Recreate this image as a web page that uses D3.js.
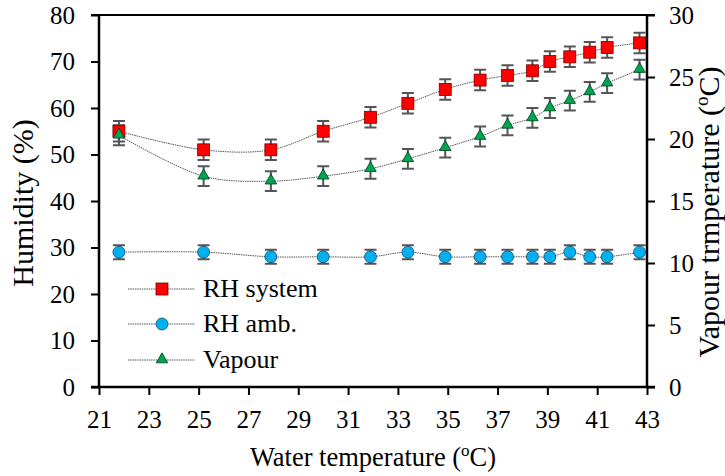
<!DOCTYPE html>
<html><head><meta charset="utf-8">
<script src="https://cdn.jsdelivr.net/npm/d3@7"></script>
<style>body{margin:0;background:#fff}svg{display:block}text{font-family:"Liberation Serif","Times New Roman",serif;fill:#000}</style>
</head><body><svg id="c" width="725" height="476"></svg>
<script>
const waterTemp = [21.8, 25.2, 27.9, 30.0, 31.9, 33.4, 34.9, 36.3, 37.4, 38.4, 39.1, 39.9, 40.7, 41.4, 42.7];
const rhSystem = [55, 51, 51, 55, 58, 61, 64, 66, 67, 68, 70, 71, 72, 73, 74];
const rhAmb = [29, 29, 28, 28, 28, 29, 28, 28, 28, 28, 28, 29, 28, 28, 29];
const vapour = [20.3, 17.0, 16.6, 17.0, 17.6, 18.4, 19.3, 20.2, 21.1, 21.7, 22.5, 23.1, 23.8, 24.5, 25.6];
const errSystem = 2.2, errAmb = 1.5, errVapour = 0.8;
const xTicks = [21,23,25,27,29,31,33,35,37,39,41,43];
const yLeftTicks = [0,10,20,30,40,50,60,70,80];
const yRightTicks = [0,5,10,15,20,25,30];
const legendLabels = ["RH system", "RH amb.", "Vapour"];

const svg = d3.select("#c");
const L = 99, R = 647, T = 15, B = 387;
const x = d3.scaleLinear().domain([21,43]).range([L,R]);
const yL = d3.scaleLinear().domain([0,80]).range([B,T]);
const yR = d3.scaleLinear().domain([0,30]).range([B,T]);

// frame top line
svg.append("line").attr("x1",L-8).attr("x2",R+8).attr("y1",T).attr("y2",T).attr("stroke","#000").attr("stroke-width",2);

const fs = "25px";
const gx = svg.append("g").attr("transform",`translate(0,${B})`)
  .call(d3.axisBottom(x).tickValues(xTicks).tickSize(8).tickPadding(15).tickSizeOuter(0));
const gl = svg.append("g").attr("transform",`translate(${L},0)`)
  .call(d3.axisLeft(yL).tickValues(yLeftTicks).tickSize(8).tickPadding(16).tickSizeOuter(0));
const gr = svg.append("g").attr("transform",`translate(${R},0)`)
  .call(d3.axisRight(yR).tickValues(yRightTicks).tickSize(8).tickPadding(14).tickSizeOuter(0));
[gx,gl,gr].forEach(g=>{
  g.attr("font-family","Liberation Serif");
  g.selectAll("path.domain").attr("stroke","#000").attr("stroke-width",2.5);
  g.selectAll(".tick line").attr("stroke","#000").attr("stroke-width",2);
  g.selectAll(".tick text").attr("font-size",fs).attr("fill","#000");
});
gl.select("path.domain").attr("d",`M0,${B+1}V${T-1}`);
gr.select("path.domain").attr("d",`M0,${B+1}V${T-1}`);
gx.select("path.domain").attr("d",`M${L-8},0H${R+8}`);

// titles
const xt = svg.append("text").attr("x",373).attr("y",466).attr("text-anchor","middle").attr("font-size","26.5px");
xt.append("tspan").text("Water temperature (");
xt.append("tspan").text("o").attr("font-size","17px").attr("dy",-10);
xt.append("tspan").text("C)").attr("dy",10);

svg.append("text").attr("transform",`translate(33,203) rotate(-90)`).attr("text-anchor","middle").attr("font-size","30px").text("Humidity (%)");
const rt = svg.append("text").attr("transform",`translate(719,212) rotate(-90)`).attr("text-anchor","middle").attr("font-size","30px");
rt.append("tspan").text("Vapour trmperature (");
rt.append("tspan").text("o").attr("font-size","19px").attr("dy",-11);
rt.append("tspan").text("C)").attr("dy",11);

const series = [
  {vals: rhSystem, y: yL, err: errSystem, shape: "square", fill: "#ff0000", stroke: "#7a0000"},
  {vals: rhAmb, y: yL, err: errAmb, shape: "circle", fill: "#00b0f0", stroke: "#1a4a6a"},
  {vals: vapour, y: yR, err: errVapour, shape: "triangle", fill: "#00a550", stroke: "#003a1a"}
];
const line = (ys)=>d3.line().x((d,i)=>x(waterTemp[i])).y(d=>ys(d)).curve(d3.curveCatmullRom.alpha(0.5));

function marker(g, shape, fill, stroke){
  if(shape==="square") g.append("rect").attr("x",-6).attr("y",-6).attr("width",12).attr("height",12).attr("fill",fill).attr("stroke",stroke).attr("stroke-width",0.8);
  else if(shape==="circle") g.append("circle").attr("r",6).attr("fill",fill).attr("stroke",stroke).attr("stroke-width",0.8);
  else g.append("path").attr("d",d3.symbol(d3.symbolTriangle2, 95)()).attr("transform","translate(0,-0.5)").attr("fill",fill).attr("stroke",stroke).attr("stroke-width",0.8);
}

series.forEach(s=>{
  svg.append("path").datum(s.vals).attr("d",line(s.y)).attr("fill","none").attr("stroke","#555").attr("stroke-width",1).attr("stroke-dasharray","1.5,0.8");
});
series.forEach(s=>{
  const g = svg.append("g");
  s.vals.forEach((v,i)=>{
    const cx = x(waterTemp[i]), y1 = s.y(v + s.err), y2 = s.y(v - s.err);
    g.append("path").attr("d",`M${cx},${y1}V${y2}M${cx-6},${y1}H${cx+6}M${cx-6},${y2}H${cx+6}`).attr("stroke","#555").attr("stroke-width",2).attr("fill","none");
  });
});
series.forEach(s=>{
  s.vals.forEach((v,i)=>{
    const g = svg.append("g").attr("transform",`translate(${x(waterTemp[i])},${s.y(v)})`);
    marker(g, s.shape, s.fill, s.stroke);
  });
});

// legend
const legY = [289, 324, 360];
series.forEach((s,i)=>{
  svg.append("line").attr("x1",128).attr("x2",195).attr("y1",legY[i]).attr("y2",legY[i]).attr("stroke","#555").attr("stroke-width",1).attr("stroke-dasharray","1.5,0.8");
  const g = svg.append("g").attr("transform",`translate(162,${legY[i]})`);
  marker(g, s.shape, s.fill, s.stroke);
  svg.append("text").attr("x",203).attr("y",legY[i]+8).attr("font-size","26px").text(legendLabels[i]);
});
</script></body></html>
